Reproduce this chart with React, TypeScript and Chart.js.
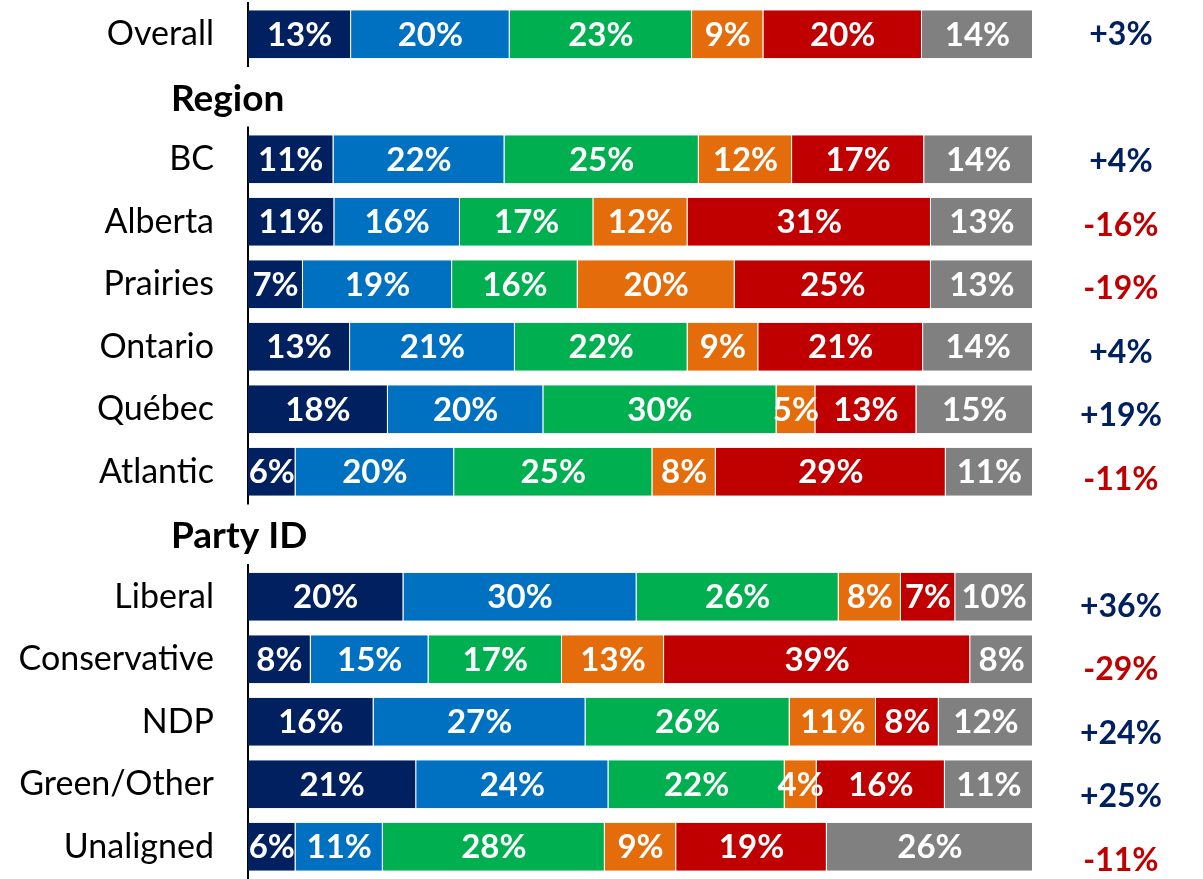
import React, { useEffect, useRef } from "react";
import { Chart, registerables } from "chart.js";

Chart.register(...registerables);

// ---- Data ----
const categories = [
  "Overall",
  "Region",
  "BC",
  "Alberta",
  "Prairies",
  "Ontario",
  "Québec",
  "Atlantic",
  "Party ID",
  "Liberal",
  "Conservative",
  "NDP",
  "Green/Other",
  "Unaligned",
];
const headerRows = ["Region", "Party ID"];

const seriesNames = ["Much better", "Somewhat better", "No change", "Somewhat worse", "Much worse", "Don't know"];
const seriesNavy = [13, null, 11, 11, 7, 13, 18, 6, null, 20, 8, 16, 21, 6];
const seriesBlue = [20, null, 22, 16, 19, 21, 20, 20, null, 30, 15, 27, 24, 11];
const seriesGreen = [23, null, 25, 17, 16, 22, 30, 25, null, 26, 17, 26, 22, 28];
const seriesOrange = [9, null, 12, 12, 20, 9, 5, 8, null, 8, 13, 11, 4, 9];
const seriesRed = [20, null, 17, 31, 25, 21, 13, 29, null, 7, 39, 8, 16, 19];
const seriesGray = [14, null, 14, 13, 13, 14, 15, 11, null, 10, 8, 12, 11, 26];
const netValues = [3, null, 4, -16, -19, 4, 19, -11, null, 36, -29, 24, 25, -11];

const allSeries = [seriesNavy, seriesBlue, seriesGreen, seriesOrange, seriesRed, seriesGray];
const seriesColors = ["#002060", "#0070C0", "#00B050", "#E46C0A", "#C00000", "#808080"];

const POS_COLOR = "#002060";
const NEG_COLOR = "#C00000";
const FONT = 'Lato, "Noto Sans", sans-serif';
const LABEL_SIZE = 34;
const BAR_LABEL_SIZE = 33;
const NET_SIZE = 32;
const HEADER_SIZE = 37;

const rowSums = categories.map((_, i) =>
  allSeries.reduce((s, arr) => s + (arr[i] == null ? 0 : (arr[i] as number)), 0)
);

const fmtNet = (v: number | null) => (v == null ? "" : (v > 0 ? "+" : "") + v + "%");

const barLabelPlugin = {
  id: "barLabels",
  afterDatasetsDraw(chart: any) {
    const ctx = chart.ctx;
    ctx.save();
    ctx.font = `bold ${BAR_LABEL_SIZE}px ${FONT}`;
    ctx.fillStyle = "#ffffff";
    ctx.textAlign = "center";
    ctx.textBaseline = "middle";
    chart.data.datasets.forEach((_: any, di: number) => {
      const meta = chart.getDatasetMeta(di);
      meta.data.forEach((el: any, i: number) => {
        const raw = allSeries[di][i];
        if (raw == null) return;
        const p = el.getCenterPoint();
        ctx.fillText(raw + "%", p.x, p.y + 1);
      });
    });
    ctx.restore();
  },
};

const headerPlugin = {
  id: "headers",
  afterDraw(chart: any) {
    const ctx = chart.ctx;
    const yScale = chart.scales.y;
    const band = (chart.chartArea.bottom - chart.chartArea.top) / categories.length;
    ctx.save();
    categories.forEach((c, i) => {
      if (!headerRows.includes(c)) return;
      const y = yScale.getPixelForValue(i);
      ctx.fillStyle = "#ffffff";
      ctx.fillRect(160, y - band / 2 + 1.5, 150, band - 3);
      ctx.fillStyle = "#000000";
      ctx.font = `bold ${HEADER_SIZE}px ${FONT}`;
      ctx.textAlign = "left";
      ctx.textBaseline = "middle";
      ctx.fillText(c, 171, y + 2);
    });
    ctx.restore();
  },
};

export default function App() {
  const canvasRef = useRef<HTMLCanvasElement | null>(null);

  useEffect(() => {
    document.body.style.margin = "0";
    const canvas = canvasRef.current;
    if (!canvas) return;
    const chart = new Chart(canvas, {
      type: "bar",
      data: {
        labels: categories,
        datasets: allSeries.map((arr, si) => ({
          label: seriesNames[si],
          data: arr.map((v, i) => (v == null ? null : ((v as number) * 100) / rowSums[i])),
          backgroundColor: seriesColors[si],
          borderColor: "rgba(255,255,255,0.55)",
          borderWidth: { top: 0, right: 1, bottom: 0, left: 0 },
          borderSkipped: false,
          barPercentage: 0.77,
          categoryPercentage: 1,
        })),
      },
      options: {
        indexAxis: "y",
        responsive: false,
        animation: false,
        events: [],
        layout: { padding: { top: 3, bottom: 1, left: 0, right: 0 } },
        plugins: {
          legend: { display: false },
          tooltip: { enabled: false },
        },
        scales: {
          x: { type: "linear", stacked: true, min: 0, max: 100, display: false },
          y: {
            type: "category",
            stacked: true,
            position: "left",
            offset: true,
            grid: { display: false, drawTicks: false },
            border: { display: true, color: "#000000", width: 2 },
            ticks: {
              autoSkip: false,
              padding: 34,
              color: "#000000",
              font: { family: FONT, size: LABEL_SIZE },
              callback: (_v: any, i: number) => (headerRows.includes(categories[i]) ? "" : categories[i]),
            },
            afterFit: (s: any) => {
              s.width = 248;
              s.paddingTop = 0;
              s.paddingBottom = 0;
            },
          },
          yNet: {
            type: "linear",
            position: "right",
            reverse: true,
            offset: false,
            beginAtZero: false,
            min: -0.504,
            max: 13.276,
            grid: { display: false, drawTicks: false, offset: false },
            border: { display: false },
            afterBuildTicks: (s: any) => {
              s.ticks = netValues
                .map((v, i) => (v == null ? null : { value: i }))
                .filter((t) => t !== null);
            },
            ticks: {
              autoSkip: false,
              crossAlign: "center",
              padding: 47,
              font: { family: FONT, size: NET_SIZE, weight: "bold" },
              color: (ctx: any) => ((netValues[ctx.tick.value] as number) >= 0 ? POS_COLOR : NEG_COLOR),
              callback: (v: any) => fmtNet(netValues[v as number]),
            },
            afterFit: (s: any) => {
              s.width = 170;
              s.paddingTop = 0;
              s.paddingBottom = 0;
            },
          },
        },
      } as any,
      plugins: [barLabelPlugin, headerPlugin],
    });
    return () => chart.destroy();
  }, []);

  return (
    <div style={{ position: "fixed", left: 0, top: 0, width: 1203, height: 879, background: "#fff" }}>
      <canvas ref={canvasRef} width={1203} height={879} style={{ width: 1203, height: 879 }} />
    </div>
  );
}
